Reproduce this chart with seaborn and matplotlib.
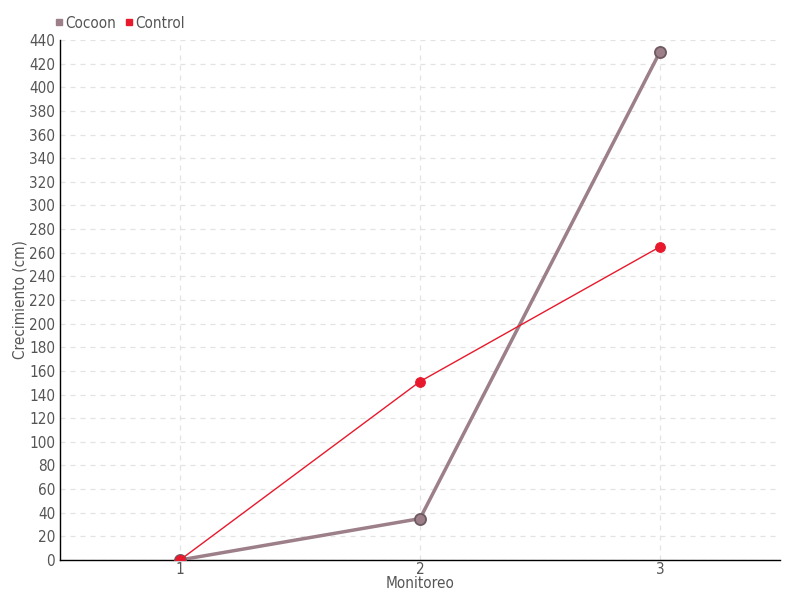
import pandas as pd
import matplotlib
matplotlib.use('Agg')
import matplotlib.pyplot as plt
import seaborn as sns
from matplotlib.lines import Line2D

# chart data
monitoreo = [1, 2, 3]
cocoon = [0, 35, 430]
control = [0, 151, 265]
y_ticks = list(range(0, 441, 20))

sns.set_theme(style='white')
plt.rcParams['font.family'] = ['DejaVu Sans']
plt.rcParams['font.stretch'] = 'condensed'

df = pd.DataFrame({
    'Monitoreo': monitoreo * 2,
    'Crecimiento': cocoon + control,
    'Serie': ['Cocoon'] * 3 + ['Control'] * 3,
})

fig = plt.figure(figsize=(8, 6), dpi=100)
ax = fig.add_axes([0.075, 0.0667, 0.9, 0.8667])

txt = '#555555'
c_cocoon = '#9c7f88'
c_control = '#e8192c'

sns.lineplot(data=df[df.Serie == 'Cocoon'], x='Monitoreo', y='Crecimiento', ax=ax,
             color=c_cocoon, linewidth=2.5, marker='o', markersize=8,
             markeredgecolor='#6e5a60', markeredgewidth=1.3, zorder=3)
sns.lineplot(data=df[df.Serie == 'Control'], x='Monitoreo', y='Crecimiento', ax=ax,
             color=c_control, linewidth=1, marker='o', markersize=7,
             markeredgecolor=c_control, zorder=4)

ax.set_xlim(0.5, 3.5)
ax.set_ylim(0, 440)
ax.set_xticks(monitoreo)
ax.set_yticks(y_ticks)
ax.grid(True, color='#e3e3e3', linestyle=(0, (4, 4)), linewidth=0.9)
for s in ['top', 'right']:
    ax.spines[s].set_visible(False)
for s in ['left', 'bottom']:
    ax.spines[s].set_color('black')
    ax.spines[s].set_linewidth(1)
ax.tick_params(axis='both', colors=txt, labelsize=11, length=5, width=1,
               direction='inout', color='black', pad=1)
ax.tick_params(axis='x', pad=-1)
ax.set_xlabel('Monitoreo', color=txt, fontsize=11, labelpad=-1)
ax.set_ylabel('Crecimiento (cm)', color=txt, fontsize=11, labelpad=1)

handles = [
    Line2D([], [], marker='s', linestyle='', color=c_cocoon, markersize=4.5),
    Line2D([], [], marker='s', linestyle='', color=c_control, markersize=4.5),
]
leg = fig.legend(handles, ['Cocoon', 'Control'], loc='upper left',
                 bbox_to_anchor=(0.05, 0.997), ncol=2, frameon=False,
                 fontsize=11, handletextpad=0.05, columnspacing=0.5,
                 handlelength=0.7)
for t in leg.get_texts():
    t.set_color(txt)

fig.savefig('out.png', dpi=100)
